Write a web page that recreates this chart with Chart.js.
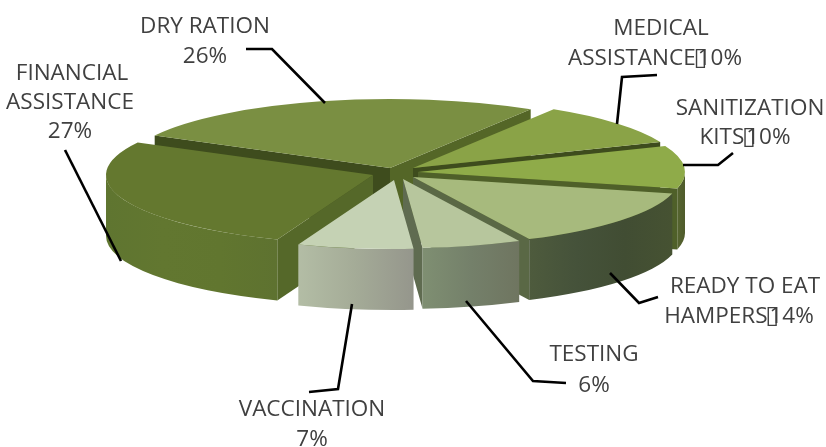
<!DOCTYPE html>
<html>
<head>
<meta charset="utf-8">
<script src="https://cdn.jsdelivr.net/npm/chart.js@4"></script>
<style>
  html, body { margin: 0; padding: 0; background: #fff; }
  #box { width: 826px; height: 447px; }
</style>
</head>
<body>
<div id="box"><canvas id="myChart" width="826" height="447"></canvas></div>
<script>
const categories = ["FINANCIAL ASSISTANCE", "DRY RATION", "MEDICAL ASSISTANCE", "SANITIZATION KITS", "READY TO EAT HAMPERS", "TESTING", "VACCINATION"];
const values = [27, 26, 10, 10, 14, 6, 7];
const topColors = ["#64782f", "#7a8f42", "#8aa347", "#8fab49", "#a7ba7d", "#b7c69d", "#c5d2b4"];

// text of each callout, the value goes on the end of the last line
const labelLines = [
  ["FINANCIAL", "ASSISTANCE", ""],
  ["DRY RATION", ""],
  ["MEDICAL", "ASSISTANCE"],
  ["SANITIZATION", "KITS"],
  ["READY TO EAT", "HAMPERS"],
  ["TESTING", ""],
  ["VACCINATION", ""],
];

// layout of the fake 3d pie, one entry per slice
const sliceCenters = [[373, 175], [390, 168], [413, 168], [418, 172], [413, 177], [403, 179], [394, 180]];
const rimColors = [
  ["#5f7530", "#627730", "#61762f", "#5e7230"],
  ["#6f8439", "#6f8439"],
  ["#7f9840", "#7f9840"],
  ["#566530", "#4f5b2b"],
  ["#4e5b3d", "#45523a", "#414d33", "#465232"],
  ["#7f8f72", "#74806a", "#6f7560"],
  ["#b3bda5", "#a4ab97", "#95968c"],
];
const endWallColors = ["#556829", "#546627", "#3e4c1d", "#4f6029", "#5a6845", "#5f6b50", "#9aa08c"];
const startWallColors = ["#556829", "#3e4c1d", "#3e4c1d", "#4f6029", "#5a6845", "#5f6b50", "#9aa08c"];
const drawOrder = [1, 2, 3, 4, 5, 0, 6];
const radiusX = 267, radiusY = 69, depth = 61;

const labelX = [[72, 70, 70], [205, 205], [661, 655], [750, 745], [745, 739], [594, 594], [312, 312]];
const labelY = [[72, 101, 130], [25, 55], [27, 57], [107, 136], [285, 315], [353, 384], [408, 438]];
const leaders = [
  [[65, 150], [121, 261]],
  [[246, 49], [272, 49], [325, 103]],
  [[657, 75], [622, 77], [617, 124]],
  [[733, 153], [718, 165], [683, 165]],
  [[610, 273], [639, 303], [658, 297]],
  [[466, 301], [533, 381], [566, 383]],
  [[352, 304], [338, 389], [309, 392]],
];

function rimPath(ctx, c, a, b) {
  ctx.beginPath();
  ctx.ellipse(c[0], c[1], radiusX, radiusY, 0, a, b);
  ctx.ellipse(c[0], c[1] + depth, radiusX, radiusY, 0, b, a, true);
  ctx.closePath();
}

function drawRim(ctx, el, i) {
  const c = sliceCenters[i];
  // only the part of the rim facing the viewer, that is 0..PI on the canvas
  for (let k = -1; k <= 1; k++) {
    const a = Math.max(el.startAngle, k * 2 * Math.PI);
    const b = Math.min(el.endAngle, k * 2 * Math.PI + Math.PI);
    if (b <= a) continue;
    const x1 = c[0] + radiusX * Math.cos(a), x2 = c[0] + radiusX * Math.cos(b);
    const grad = ctx.createLinearGradient(x2, 0, x1, 0);
    const stops = rimColors[i];
    stops.forEach((col, n) => grad.addColorStop(n / (stops.length - 1), col));
    ctx.fillStyle = grad;
    rimPath(ctx, c, a, b);
    ctx.fill();
  }
}

function drawWall(ctx, c, angle, color) {
  const x = c[0] + radiusX * Math.cos(angle);
  const y = c[1] + radiusY * Math.sin(angle);
  ctx.fillStyle = color;
  ctx.beginPath();
  ctx.moveTo(c[0], c[1]);
  ctx.lineTo(x, y);
  ctx.lineTo(x, y + depth);
  ctx.lineTo(c[0], c[1] + depth);
  ctx.closePath();
  ctx.fill();
}

const pie3d = {
  id: "pie3d",
  beforeDatasetsDraw(chart) {
    const ctx = chart.ctx;
    const arcs = chart.getDatasetMeta(0).data;
    drawOrder.forEach((i) => {
      const el = arcs[i];
      const c = sliceCenters[i];
      // cut edges, only the ones turned to the viewer
      if (Math.cos(el.endAngle) > 0) drawWall(ctx, c, el.endAngle, endWallColors[i]);
      if (Math.cos(el.startAngle) < 0) drawWall(ctx, c, el.startAngle, startWallColors[i]);
      drawRim(ctx, el, i);
      ctx.save();
      ctx.translate(c[0], c[1]);
      ctx.scale(radiusX / el.outerRadius, radiusY / el.outerRadius);
      ctx.translate(-el.x, -el.y);
      el.draw(ctx);
      ctx.restore();
    });
    return false;
  },
  afterDraw(chart) {
    const ctx = chart.ctx;
    const font = '22.5px "Open Sans"';
    ctx.save();
    ctx.strokeStyle = "#000";
    ctx.lineWidth = 2.6;
    leaders.forEach((pts) => {
      ctx.beginPath();
      pts.forEach((p, n) => (n ? ctx.lineTo(p[0], p[1]) : ctx.moveTo(p[0], p[1])));
      ctx.stroke();
    });
    ctx.font = font;
    ctx.fillStyle = "#404040";
    ctx.textBaseline = "middle";
    ctx.textAlign = "left";
    labelLines.forEach((lines, i) => {
      lines.forEach((line, n) => {
        const cx = labelX[i][n], y = labelY[i][n] + 2;
        const last = n === lines.length - 1;
        const pct = values[i] + "%";
        if (!last) {
          ctx.fillText(line, cx - ctx.measureText(line).width / 2, y);
          return;
        }
        if (line === "") {
          ctx.fillText(pct, cx - ctx.measureText(pct).width / 2, y);
          return;
        }
        // value run on with a missing-glyph box sitting on its first digit
        const head = ctx.measureText(line).width;
        const x0 = cx - (head + 2 + ctx.measureText(pct).width) / 2;
        ctx.fillText(line, x0, y);
        ctx.fillText(pct, x0 + head + 2, y);
        ctx.font = '25px "DejaVu Sans"';
        ctx.fillText("\u25AF", x0 + head - 2, y - 1);
        ctx.font = font;
      });
    });
    ctx.restore();
  },
};

new Chart(document.getElementById("myChart"), {
  type: "pie",
  data: {
    labels: categories,
    datasets: [{ data: values, backgroundColor: topColors, borderWidth: 0 }],
  },
  options: {
    responsive: false,
    animation: false,
    rotation: 201,
    layout: { padding: 0 },
    plugins: { legend: { display: false }, tooltip: { enabled: false } },
  },
  plugins: [pie3d],
});
</script>
</body>
</html>
